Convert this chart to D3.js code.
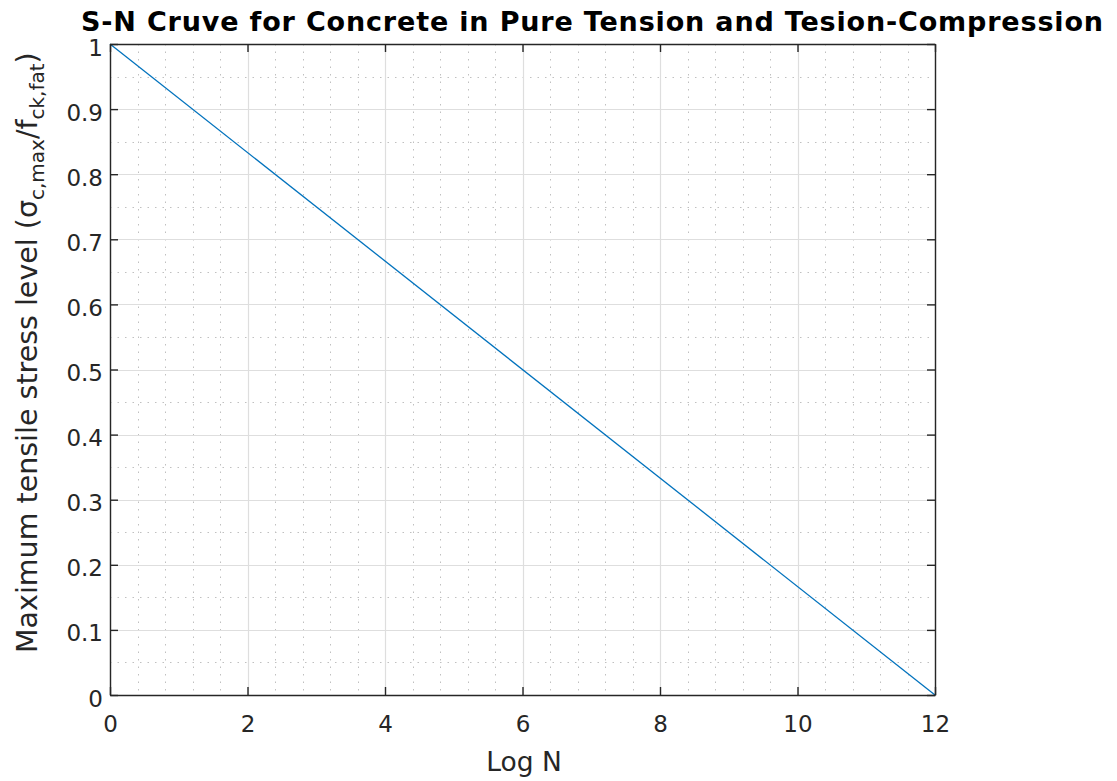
<!DOCTYPE html>
<html>
<head>
<meta charset="utf-8">
<script src="https://cdn.jsdelivr.net/npm/d3@7"></script>
<style>
  body { margin: 0; background: #fff; }
  svg { display: block; }
  text { font-family: "DejaVu Sans", Verdana, sans-serif; }
</style>
</head>
<body>
<svg id="chart" width="1117" height="781"></svg>
<script>
// S-N line: stress level falls linearly from 1 at log N = 0 to 0 at log N = 12
const logN = [0, 12];
const stressLevel = [1, 0];
const xTicks = [0, 2, 4, 6, 8, 10, 12];
const yTicks = [0, 0.1, 0.2, 0.3, 0.4, 0.5, 0.6, 0.7, 0.8, 0.9, 1];
const xMinor = d3.range(0, 12.0001, 0.4);
const yMinor = d3.range(0, 1.0001, 0.05);

const svg = d3.select("#chart");
const m = { left: 110, right: 935, top: 44, bottom: 695 };
const ink = "#262626";

const x = d3.scaleLinear().domain([0, 12]).range([m.left, m.right]);
const y = d3.scaleLinear().domain([0, 1]).range([m.bottom, m.top]);

const g = svg.append("g");
const px = v => Math.round(v) + 0.5;

// minor grid (dotted)
g.append("g").selectAll("line").data(xMinor.filter(v => Math.abs(v / 2 - Math.round(v / 2)) > 1e-6))
  .join("line")
  .attr("x1", d => px(x(d))).attr("x2", d => px(x(d)))
  .attr("y1", m.top).attr("y2", m.bottom)
  .attr("stroke", "#c0c0c0").attr("stroke-width", 1).attr("stroke-dasharray", "1.5,6");
g.append("g").selectAll("line").data(yMinor.filter(v => Math.abs(v * 10 - Math.round(v * 10)) > 1e-6))
  .join("line")
  .attr("y1", d => px(y(d))).attr("y2", d => px(y(d)))
  .attr("x1", m.left).attr("x2", m.right)
  .attr("stroke", "#c0c0c0").attr("stroke-width", 1).attr("stroke-dasharray", "1.5,6");

// major grid
g.append("g").selectAll("line").data(xTicks)
  .join("line")
  .attr("x1", d => px(x(d))).attr("x2", d => px(x(d)))
  .attr("y1", m.top).attr("y2", m.bottom)
  .attr("stroke", "#dedede").attr("stroke-width", 1.2);
g.append("g").selectAll("line").data(yTicks)
  .join("line")
  .attr("y1", d => px(y(d))).attr("y2", d => px(y(d)))
  .attr("x1", m.left).attr("x2", m.right)
  .attr("stroke", "#dedede").attr("stroke-width", 1.2);

// data line
const line = d3.line().x(d => x(d[0])).y(d => y(d[1]));
g.append("path")
  .datum(d3.zip(logN, stressLevel))
  .attr("d", line)
  .attr("fill", "none")
  .attr("stroke", "#0072BD")
  .attr("stroke-width", 1.3);

// axes with inward ticks on all four sides
const tickLen = 8;
const bottomAxis = d3.axisBottom(x).tickValues(xTicks).tickSizeInner(-tickLen).tickSizeOuter(0).tickPadding(0).tickFormat(d3.format("d"));
const topAxis = d3.axisTop(x).tickValues(xTicks).tickSizeInner(-tickLen).tickSizeOuter(0).tickFormat("");
const leftAxis = d3.axisLeft(y).tickValues(yTicks).tickSizeInner(-tickLen).tickSizeOuter(0).tickPadding(7).tickFormat(d => d === 0 || d === 1 ? d3.format("d")(d) : d3.format(".1f")(d));
const rightAxis = d3.axisRight(y).tickValues(yTicks).tickSizeInner(-tickLen).tickSizeOuter(0).tickFormat("");

function style(sel) {
  sel.selectAll("path.domain").attr("stroke", ink).attr("stroke-width", 1.4);
  sel.selectAll(".tick line").attr("stroke", ink).attr("stroke-width", 1.4);
  sel.selectAll(".tick text").attr("fill", ink).attr("font-size", 23).attr("font-family", "DejaVu Sans, sans-serif");
}
const gb = svg.append("g").attr("transform", `translate(0,${m.bottom})`).call(bottomAxis).call(style);
gb.selectAll(".tick text").attr("y", 37).attr("dy", null);
svg.append("g").attr("transform", `translate(0,${m.top})`).call(topAxis).call(style);
const gl = svg.append("g").attr("transform", `translate(${m.left},0)`).call(leftAxis).call(style);
gl.selectAll(".tick text").attr("dy", 11);
svg.append("g").attr("transform", `translate(${m.right},0)`).call(rightAxis).call(style);

// title
svg.append("text")
  .attr("x", 81).attr("y", 31)
  .attr("font-size", 27).attr("font-weight", "bold")
  .attr("textLength", 1022).attr("lengthAdjust", "spacing")
  .attr("fill", "#000")
  .text("S-N Cruve for Concrete in Pure Tension and Tesion-Compression");

// x label
svg.append("text")
  .attr("x", 524).attr("y", 771)
  .attr("text-anchor", "middle")
  .attr("font-size", 26.5).attr("fill", ink)
  .text("Log N");

// y label with subscripts
const yl = svg.append("text")
  .attr("transform", `translate(37,653) rotate(-90)`)
  .attr("text-anchor", "start")
  .attr("font-size", 28.5).attr("fill", ink);
yl.append("tspan").text("Maximum tensile stress level (σ");
yl.append("tspan").attr("font-size", 20).attr("dy", 7).text("c,max");
yl.append("tspan").attr("dy", -7).text("/f");
yl.append("tspan").attr("font-size", 20).attr("dy", 7).text("ck,fat");
yl.append("tspan").attr("dy", -7).text(")");
</script>
</body>
</html>
